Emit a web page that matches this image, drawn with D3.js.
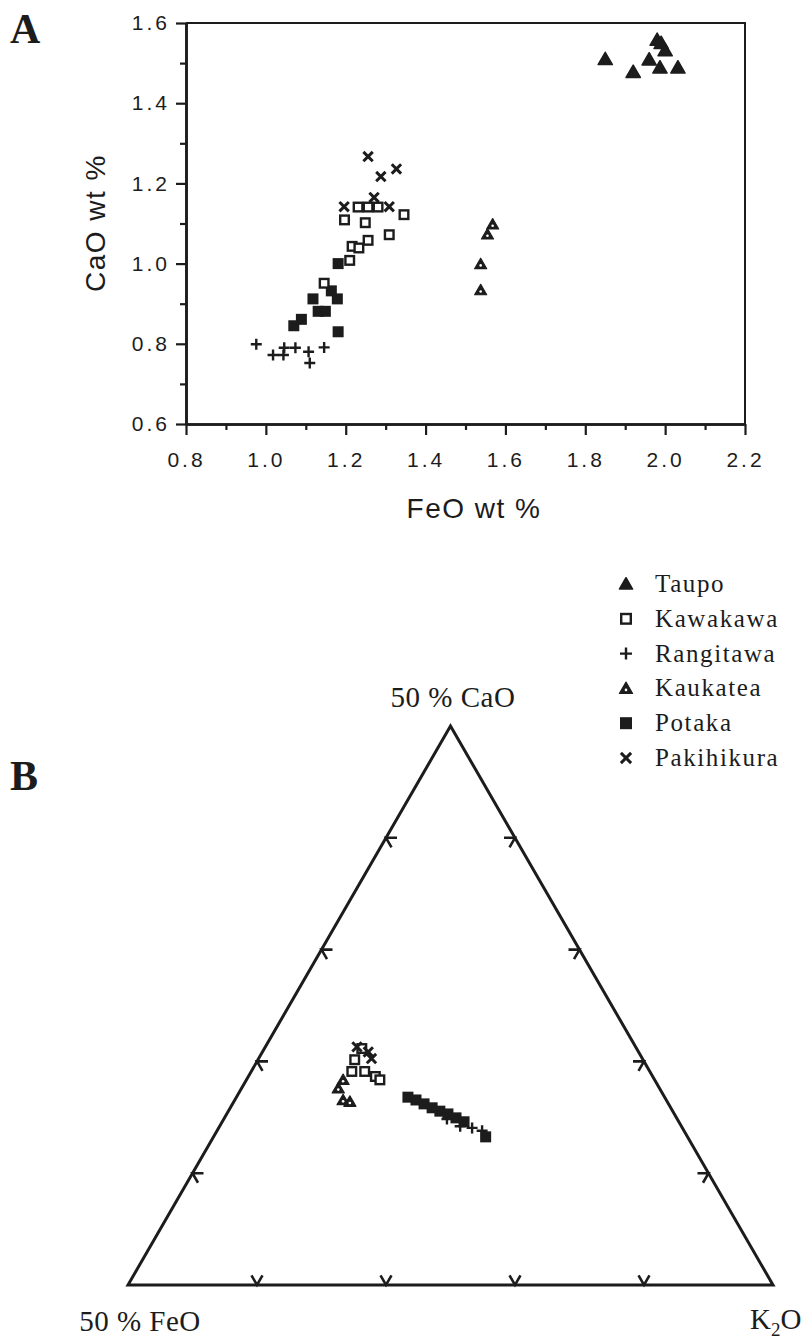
<!DOCTYPE html>
<html><head><meta charset="utf-8">
<script src="https://cdn.jsdelivr.net/npm/d3@7"></script>
<style>body{margin:0;background:#fff}svg{display:block}</style>
</head><body>
<svg id="c" width="812" height="1340"></svg>
<script>
// ---------- DATA ----------
const seriesNames = ["Taupo", "Kawakawa", "Rangitawa", "Kaukatea", "Potaka", "Pakihikura"];
const xTickValues = [0.8, 1.0, 1.2, 1.4, 1.6, 1.8, 2.0, 2.2];
const yTickValues = [0.6, 0.8, 1.0, 1.2, 1.4, 1.6];
const xTitle = "FeO wt %";
const yTitle = "CaO wt %";

// Panel A: [FeO wt %, CaO wt %]
const taupoA = [[1.85,1.51],[1.92,1.478],[1.98,1.558],[1.99,1.55],[2.0,1.532],[1.96,1.509],[1.987,1.489],[2.032,1.489]];
const kawakawaA = [[1.197,1.109],[1.231,1.141],[1.256,1.141],[1.281,1.141],[1.249,1.102],[1.346,1.122],[1.256,1.058],[1.309,1.072],[1.216,1.043],[1.233,1.039],[1.21,1.008],[1.146,0.951]];
const rangitawaA = [[0.976,0.799],[1.018,0.772],[1.044,0.772],[1.046,0.79],[1.074,0.79],[1.107,0.78],[1.11,0.752],[1.146,0.791]];
const kaukateaA = [[1.538,0.999],[1.538,0.934],[1.555,1.073],[1.568,1.098]];
const potakaA = [[1.181,1.0],[1.118,0.912],[1.131,0.881],[1.149,0.881],[1.164,0.932],[1.179,0.912],[1.07,0.845],[1.089,0.861],[1.181,0.83]];
const pakihikuraA = [[1.256,1.267],[1.288,1.217],[1.327,1.236],[1.196,1.142],[1.271,1.165],[1.309,1.142]];

// Panel B: [CaO, FeO, K2O] proportions (%)
const vertexLabels = ["50 % CaO", "50 % FeO", "K2O"];
const kawakawaB = [[40.3,44.7,15.0],[38.2,46.2,15.6],[38.2,44.2,17.6],[37.3,43.0,19.7],[36.7,42.6,20.7],[42.3,42.6,15.1]];
const pakihikuraB = [[41.7,41.9,16.4],[42.6,43.2,14.2],[40.5,42.0,17.5]];
const kaukateaB = [[35.2,49.8,15.0],[36.7,48.3,15.0],[33.1,50.1,16.8],[32.8,49.2,18.0]];
const potakaB = [[33.6,39.8,26.6],[33.1,38.8,28.1],[32.4,37.9,29.7],[31.7,37.0,31.3],[31.1,36.1,32.8],[30.6,35.1,34.3],[29.9,34.2,35.9],[29.2,33.3,37.5],[26.5,31.3,42.2]];
const rangitawaB = [[29.7,35.7,34.6],[28.4,34.3,37.3],[28.1,32.6,39.3],[27.6,31.3,41.1]];
const taupoB = [];

// ---------- DRAW ----------
const svg = d3.select("#c");
const ink = "#1c1c1c";

function marker(g, type, cx, cy, s) {
  const h = s / 2;
  if (type === "Taupo") {
    g.append("path").attr("d", `M${cx},${cy-h*1.05}L${cx+h*1.1},${cy+h*0.85}L${cx-h*1.1},${cy+h*0.85}Z`)
      .attr("fill", ink).attr("stroke", ink).attr("stroke-width", 1.5).attr("stroke-linejoin", "round");
  } else if (type === "Kaukatea") {
    g.append("path").attr("d", `M${cx},${cy-h*1.05}L${cx+h*1.1},${cy+h*0.85}L${cx-h*1.1},${cy+h*0.85}Z`)
      .attr("fill", ink).attr("stroke", ink).attr("stroke-width", 1.2).attr("stroke-linejoin", "round");
    g.append("circle").attr("cx", cx).attr("cy", cy + h*0.25).attr("r", 1.3).attr("fill", "#fff");
  } else if (type === "Kawakawa") {
    g.append("rect").attr("x", cx-h+1.2).attr("y", cy-h+1.2).attr("width", s-2.4).attr("height", s-2.4)
      .attr("fill", "#fff").attr("stroke", ink).attr("stroke-width", 2.4);
  } else if (type === "Potaka") {
    g.append("rect").attr("x", cx-h).attr("y", cy-h).attr("width", s).attr("height", s).attr("fill", ink);
  } else if (type === "Rangitawa") {
    g.append("path").attr("d", `M${cx-h},${cy}H${cx+h}M${cx},${cy-h}V${cy+h}`)
      .attr("stroke", ink).attr("stroke-width", 2.4).attr("fill", "none");
  } else if (type === "Pakihikura") {
    const q = h*0.85;
    g.append("path").attr("d", `M${cx-q},${cy-q}L${cx+q},${cy+q}M${cx+q},${cy-q}L${cx-q},${cy+q}`)
      .attr("stroke", ink).attr("stroke-width", 3).attr("fill", "none");
  }
}

// ---- Panel A ----
const x = d3.scaleLinear().domain([0.8, 2.2]).range([186, 745]);
const y = d3.scaleLinear().domain([0.6, 1.6]).range([424, 23]);

const gA = svg.append("g");
gA.append("path").attr("d", `M${x(0.8)},${y(1.6)}H${x(2.2)}V${y(0.6)}`)
  .attr("fill", "none").attr("stroke", ink).attr("stroke-width", 2);

const minorX = d3.range(0.9, 2.2, 0.2);
const minorY = d3.range(0.7, 1.6, 0.2);

const xAxis = d3.axisBottom(x).tickValues(xTickValues).tickFormat(d3.format(".1f")).tickSizeInner(11).tickSizeOuter(0).tickPadding(17);
const gx = gA.append("g").attr("transform", `translate(0,${y(0.6)})`).call(xAxis);
const yAxis = d3.axisLeft(y).tickValues(yTickValues).tickFormat(d3.format(".1f")).tickSizeInner(10).tickSizeOuter(0).tickPadding(5);
const gy = gA.append("g").attr("transform", `translate(${x(0.8)},0)`).call(yAxis);
gA.append("g").attr("transform", `translate(0,${y(0.6)})`)
  .call(d3.axisBottom(x).tickValues(minorX).tickFormat("").tickSizeInner(6).tickSizeOuter(0));
gA.append("g").attr("transform", `translate(${x(0.8)},0)`)
  .call(d3.axisLeft(y).tickValues(minorY).tickFormat("").tickSizeInner(6).tickSizeOuter(0));
gA.selectAll(".domain").attr("stroke", ink).attr("stroke-width", 2.6);
gA.selectAll(".tick line").attr("stroke", ink).attr("stroke-width", 2.2);
gA.selectAll(".tick text").attr("fill", ink)
  .style("font-family", "'Liberation Sans', Arial, sans-serif").style("font-size", "21px").style("letter-spacing", "3px");
gy.selectAll(".tick text").attr("dx", "-1");

gA.append("text").attr("x", 474).attr("y", 518).attr("text-anchor", "middle")
  .style("font-family", "'Liberation Sans', Arial, sans-serif").style("font-size", "28px").style("letter-spacing", "1.5px")
  .attr("fill", ink).text(xTitle);
gA.append("text").attr("transform", "translate(105,223) rotate(-90)").attr("text-anchor", "middle")
  .style("font-family", "'Liberation Sans', Arial, sans-serif").style("font-size", "28px").style("letter-spacing", "1.5px")
  .attr("fill", ink).text(yTitle);

svg.append("text").attr("x", 10).attr("y", 43).style("font-family", "'Liberation Serif', 'Times New Roman', serif")
  .style("font-size", "42px").style("font-weight", "bold").attr("fill", ink).text("A");

const dataA = {Taupo: taupoA, Kawakawa: kawakawaA, Rangitawa: rangitawaA, Kaukatea: kaukateaA, Potaka: potakaA, Pakihikura: pakihikuraA};
const ptsA = svg.append("g");
["Potaka","Kawakawa","Rangitawa","Kaukatea","Taupo","Pakihikura"].forEach(name => {
  dataA[name].forEach(d => marker(ptsA, name, x(d[0]), y(d[1]), name === "Taupo" ? 13 : 11));
});

// ---- Legend ----
const leg = svg.append("g");
seriesNames.forEach((n, i) => {
  const cy = 584 + i * 34.8;
  marker(leg, n, 626, cy, 12);
  leg.append("text").attr("x", 655).attr("y", cy + 8)
    .style("font-family", "'Liberation Serif', 'Times New Roman', serif").style("font-size", "25px").style("letter-spacing", "1.6px")
    .attr("fill", ink).text(n);
});

// ---- Panel B (ternary) ----
const tx = d3.scaleLinear().domain([0, 1]).range([128, 773]);
const ty = d3.scaleLinear().domain([0, 1]).range([1285, 726]);
function proj(d) { // d = [CaO, FeO, K2O]
  const s = d[0] + d[1] + d[2];
  const a = d[0] / s, c = d[2] / s;
  return [tx(c + a / 2), ty(a)];
}
const A = proj([1,0,0]), L = proj([0,1,0]), R = proj([0,0,1]);
const gB = svg.append("g");
gB.append("path").attr("d", `M${A[0]},${A[1]}L${R[0]},${R[1]}L${L[0]},${L[1]}Z`)
  .attr("fill", "none").attr("stroke", ink).attr("stroke-width", 3).attr("stroke-linejoin", "miter");

const tl = 11;
const c60 = 0.5, s60 = Math.sqrt(3) / 2;
[0.2, 0.4, 0.6, 0.8].forEach(f => {
  let p = proj([f, 1 - f, 0]);
  gB.append("path").attr("d", `M${p[0]+tl},${p[1]}L${p[0]},${p[1]}L${p[0]+tl*c60},${p[1]+tl*s60}`)
    .attr("fill", "none").attr("stroke", ink).attr("stroke-width", 2.6);
  p = proj([f, 0, 1 - f]);
  gB.append("path").attr("d", `M${p[0]-tl},${p[1]}L${p[0]},${p[1]}L${p[0]-tl*c60},${p[1]+tl*s60}`)
    .attr("fill", "none").attr("stroke", ink).attr("stroke-width", 2.6);
  p = proj([0, 1 - f, f]);
  gB.append("path").attr("d", `M${p[0]-tl*c60},${p[1]-tl*s60}L${p[0]},${p[1]}L${p[0]+tl*c60},${p[1]-tl*s60}`)
    .attr("fill", "none").attr("stroke", ink).attr("stroke-width", 2.6);
});

const serif = "'Liberation Serif', 'Times New Roman', serif";
gB.append("text").attr("x", 453).attr("y", 707).attr("text-anchor", "middle").style("font-family", serif)
  .style("font-size", "29px").style("letter-spacing", "0.5px").attr("fill", ink).text(vertexLabels[0]);
gB.append("text").attr("x", 140).attr("y", 1331).attr("text-anchor", "middle").style("font-family", serif)
  .style("font-size", "29px").style("letter-spacing", "0.5px").attr("fill", ink).text(vertexLabels[1]);
const k = gB.append("text").attr("x", 750).attr("y", 1329).style("font-family", serif)
  .style("font-size", "29px").attr("fill", ink);
k.append("tspan").text("K");
k.append("tspan").attr("dy", 7).style("font-size", "19px").text("2");
k.append("tspan").attr("dy", -7).text("O");

svg.append("text").attr("x", 10).attr("y", 790).style("font-family", serif)
  .style("font-size", "42px").style("font-weight", "bold").attr("fill", ink).text("B");

const dataB = {Taupo: taupoB, Kawakawa: kawakawaB, Rangitawa: rangitawaB, Kaukatea: kaukateaB, Potaka: potakaB, Pakihikura: pakihikuraB};
const ptsB = svg.append("g");
["Kaukatea","Kawakawa","Potaka","Rangitawa","Pakihikura","Taupo"].forEach(name => {
  dataB[name].forEach(d => { const p = proj(d); marker(ptsB, name, p[0], p[1], 11); });
});
</script>
</body></html>
